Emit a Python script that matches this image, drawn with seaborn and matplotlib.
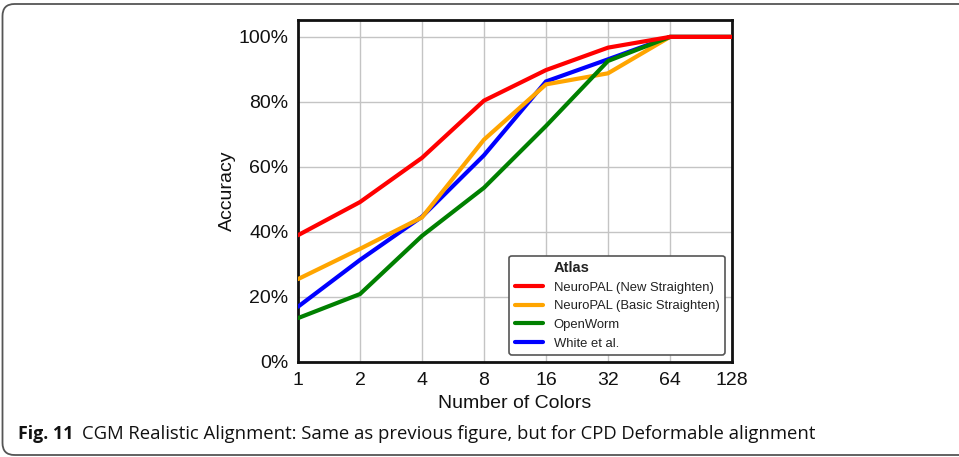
import matplotlib
matplotlib.use("Agg")
import matplotlib.pyplot as plt
import seaborn as sns
import pandas as pd
from matplotlib.lines import Line2D
from matplotlib.patches import FancyBboxPatch
from matplotlib.ticker import FuncFormatter

# ---- data ----
num_colors = [1, 2, 4, 8, 16, 32, 64, 128]
x_tick_labels = ["1", "2", "4", "8", "16", "32", "64", "128"]
neuropal_new = [39.0, 49.2, 62.8, 80.4, 89.8, 96.7, 100.0, 100.0]
neuropal_basic = [25.5, 34.8, 44.5, 68.4, 85.4, 88.8, 100.0, 100.0]
openworm = [13.5, 20.9, 38.8, 53.6, 72.6, 92.6, 100.0, 100.0]
white_et_al = [17.0, 31.4, 44.7, 63.6, 86.3, 93.1, 100.0, 100.0]
atlas_names = ["NeuroPAL (New Straighten)", "NeuroPAL (Basic Straighten)",
               "OpenWorm", "White et al."]
atlas_colors = ["#ff0000", "#ffa500", "#008000", "#0000ff"]
y_ticks = [0, 20, 40, 60, 80, 100]

series = [neuropal_new, neuropal_basic, openworm, white_et_al]
rows = []
for name, vals in zip(atlas_names, series):
    for c, v in zip(num_colors, vals):
        rows.append({"Number of Colors": c, "Accuracy": v, "Atlas": name})
df = pd.DataFrame(rows)

sns.set_style("whitegrid", {"grid.color": "#c4c4c4", "axes.edgecolor": "#111111"})
plt.rcParams["font.family"] = ["Liberation Sans", "DejaVu Sans"]

W, H = 959, 457
fig = plt.figure(figsize=(W / 100, H / 100), dpi=100)
fig.patch.set_facecolor("white")
ax = fig.add_axes([298 / W, 1 - 362 / H, 434 / W, 342 / H])

palette = dict(zip(atlas_names, atlas_colors))
sns.lineplot(data=df, x="Number of Colors", y="Accuracy", hue="Atlas",
             hue_order=atlas_names, palette=palette, linewidth=3.0,
             legend=False, ax=ax)

# drawing order: red on top
zorders = [6, 4, 5, 3]
for line, z in zip(ax.get_lines(), zorders):
    line.set_zorder(z)
    line.set_solid_joinstyle("miter")

ax.set_xscale("log", base=2)
ax.set_xlim(1, 128)
ax.set_xticks(num_colors)
ax.set_xticklabels(x_tick_labels)
ax.minorticks_off()
ax.set_ylim(0, 105.2)
ax.set_yticks(y_ticks)
ax.yaxis.set_major_formatter(FuncFormatter(lambda v, p: f"{int(v)}%"))
ax.tick_params(axis="both", length=0, pad=7, labelsize=14, labelcolor="#111111")
ax.grid(True, color="#c4c4c4", linewidth=1.0)
for s in ax.spines.values():
    s.set_linewidth(2.0)
    s.set_color("#111111")
    s.set_visible(True)

ax.set_xlabel("Number of Colors", fontsize=14, color="#111111")
ax.set_ylabel("Accuracy", fontsize=14, color="#111111")
ax.xaxis.set_label_coords(0.5, -(395 - 362) / 342)
ax.yaxis.set_label_coords((236 - 298) / 434, 0.5)

handles = [Line2D([], [], color="none", label="Atlas")]
for n, c in zip(atlas_names, atlas_colors):
    handles.append(Line2D([], [], color=c, linewidth=3.0, label=n))
leg = ax.legend(handles=handles, loc="lower right", fontsize=9.4,
                frameon=True, fancybox=True, edgecolor="#555555",
                framealpha=1.0, handlelength=2.2, handletextpad=0.8,
                labelspacing=0.5, borderpad=0.4, borderaxespad=0.55)
leg.get_texts()[0].set_fontweight("bold")
leg.get_texts()[0].set_fontsize(10.6)
for t in leg.get_texts():
    t.set_color("#222222")
leg.get_frame().set_linewidth(1.2)

# outer rounded border
border = FancyBboxPatch((2.5, H - 455), 975, 451,
                        boxstyle="round,pad=0,rounding_size=12",
                        transform=None, facecolor="none",
                        edgecolor="#555555", linewidth=1.3)
fig.add_artist(border)

# caption
fig.text(18 / W, 1 - 439 / H, "Fig. 11", fontsize=12.8, fontweight="bold",
         va="baseline", ha="left", color="#111111",
         family=["Open Sans", "DejaVu Sans"])
fig.text(82 / W, 1 - 439 / H,
         "CGM Realistic Alignment: Same as previous figure, but for CPD Deformable alignment",
         fontsize=13.3, va="baseline", ha="left", color="#111111",
         family=["Open Sans", "DejaVu Sans"])

fig.savefig("out.png", dpi=100, facecolor="white")
